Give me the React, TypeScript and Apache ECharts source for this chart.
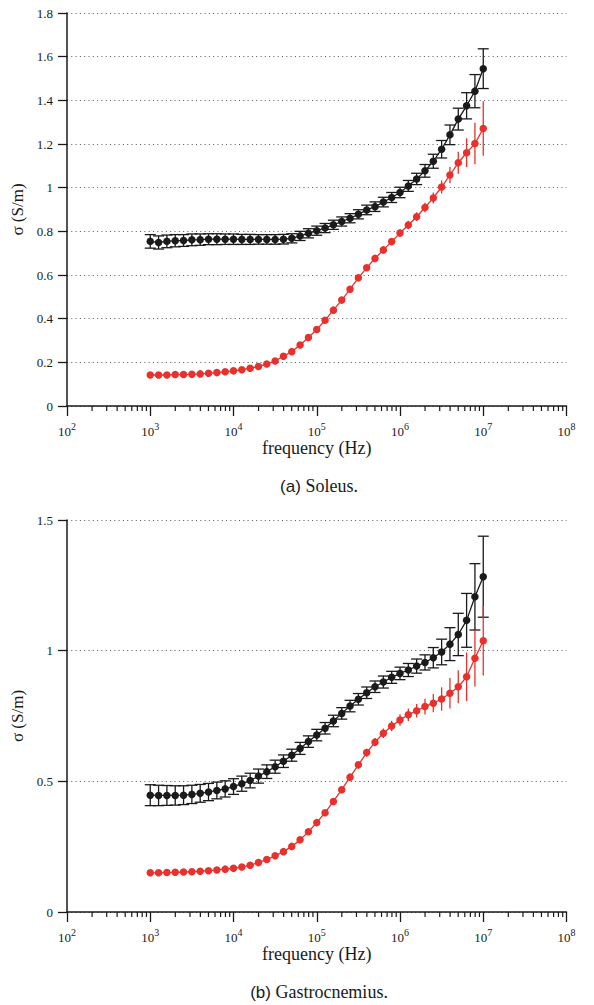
import { useEffect, useRef } from 'react';
import * as echarts from 'echarts';

// Frequencies (Hz), 10 points per decade from 1 kHz to 10 MHz
const freqHz = [
  1000, 1259, 1585, 1995, 2512, 3162, 3981, 5012, 6310, 7943,
  10000, 12589, 15849, 19953, 25119, 31623, 39811, 50119, 63096, 79433,
  100000, 125893, 158489, 199526, 251189, 316228, 398107, 501187, 630957, 794328,
  1000000, 1258925, 1584893, 1995262, 2511886, 3162278, 3981072, 5011872, 6309573, 7943282,
  10000000,
];

// (a) Soleus
const soleusBlack = [
  0.754, 0.749, 0.754, 0.757, 0.758, 0.761, 0.762, 0.764, 0.764, 0.764,
  0.764, 0.763, 0.763, 0.763, 0.763, 0.763, 0.764, 0.768, 0.779, 0.791,
  0.803, 0.815, 0.830, 0.845, 0.860, 0.878, 0.898, 0.913, 0.934, 0.955,
  0.978, 1.008, 1.040, 1.077, 1.121, 1.176, 1.242, 1.314, 1.375, 1.442,
  1.545,
];
const soleusBlackErr = [
  0.031, 0.030, 0.029, 0.028, 0.027, 0.027, 0.026, 0.025, 0.025, 0.024,
  0.024, 0.023, 0.023, 0.022, 0.022, 0.022, 0.022, 0.021, 0.021, 0.021,
  0.021, 0.021, 0.021, 0.021, 0.021, 0.021, 0.022, 0.022, 0.022, 0.023,
  0.024, 0.025, 0.026, 0.029, 0.032, 0.040, 0.045, 0.050, 0.060, 0.076,
  0.091,
];
const soleusRed = [
  0.142, 0.142, 0.142, 0.144, 0.144, 0.145, 0.147, 0.150, 0.153, 0.157,
  0.161, 0.166, 0.173, 0.181, 0.192, 0.206, 0.228, 0.249, 0.279, 0.314,
  0.350, 0.393, 0.439, 0.485, 0.535, 0.587, 0.633, 0.676, 0.715, 0.753,
  0.792, 0.829, 0.867, 0.909, 0.953, 1.003, 1.058, 1.114, 1.160, 1.202,
  1.271,
];
const soleusRedErr = [
  0.004, 0.004, 0.004, 0.004, 0.004, 0.004, 0.004, 0.004, 0.005, 0.005,
  0.005, 0.005, 0.005, 0.006, 0.006, 0.006, 0.007, 0.007, 0.008, 0.008,
  0.009, 0.009, 0.010, 0.011, 0.012, 0.013, 0.014, 0.015, 0.016, 0.017,
  0.018, 0.019, 0.020, 0.022, 0.025, 0.030, 0.038, 0.050, 0.066, 0.095,
  0.125,
];

// (b) Gastrocnemius
const gastroBlack = [
  0.447, 0.446, 0.446, 0.446, 0.447, 0.450, 0.454, 0.459, 0.465, 0.471,
  0.480, 0.491, 0.503, 0.520, 0.537, 0.556, 0.577, 0.600, 0.626, 0.652,
  0.677, 0.703, 0.731, 0.760, 0.788, 0.814, 0.839, 0.862, 0.880, 0.898,
  0.913, 0.926, 0.941, 0.955, 0.973, 0.995, 1.025, 1.062, 1.116, 1.206,
  1.283,
];
const gastroBlackErr = [
  0.040, 0.039, 0.038, 0.037, 0.036, 0.035, 0.034, 0.033, 0.032, 0.031,
  0.030, 0.029, 0.028, 0.027, 0.026, 0.025, 0.024, 0.023, 0.023, 0.022,
  0.022, 0.022, 0.022, 0.022, 0.022, 0.022, 0.022, 0.022, 0.023, 0.023,
  0.024, 0.025, 0.027, 0.029, 0.039, 0.049, 0.063, 0.081, 0.103, 0.127,
  0.155,
];
const gastroRed = [
  0.150, 0.150, 0.151, 0.152, 0.153, 0.154, 0.156, 0.158, 0.161, 0.164,
  0.167, 0.172, 0.179, 0.189, 0.201, 0.215, 0.231, 0.251, 0.276, 0.307,
  0.342, 0.380, 0.423, 0.468, 0.516, 0.563, 0.610, 0.650, 0.684, 0.712,
  0.735, 0.755, 0.770, 0.786, 0.799, 0.815, 0.837, 0.862, 0.900, 0.971,
  1.038,
];
const gastroRedErr = [
  0.005, 0.005, 0.005, 0.005, 0.005, 0.005, 0.005, 0.005, 0.005, 0.005,
  0.006, 0.006, 0.006, 0.006, 0.007, 0.007, 0.007, 0.008, 0.008, 0.009,
  0.010, 0.010, 0.011, 0.012, 0.013, 0.014, 0.015, 0.016, 0.018, 0.020,
  0.022, 0.024, 0.026, 0.030, 0.035, 0.045, 0.058, 0.063, 0.093, 0.108,
  0.133,
];

// Axis settings
const xMin = 100;
const xMax = 100000000;
const decadeStarts = [1e2, 1e3, 1e4, 1e5, 1e6, 1e7];
const minorMantissas = [2, 3, 4, 5, 6, 7, 8, 9];
const captions = [
  { tag: '(a)', name: 'Soleus.' },
  { tag: '(b)', name: 'Gastrocnemius.' },
];
const yRanges = [
  { max: 1.8, interval: 0.2 },
  { max: 1.5, interval: 0.5 },
];

const BLACK = '#1a1a1a';
const RED = '#e8312c';
const SERIF = 'Times New Roman, Liberation Serif, DejaVu Serif, serif';
const SANS = 'Arial, Liberation Sans, Helvetica, sans-serif';

const minorTicks: number[] = [];
decadeStarts.forEach((d) => minorMantissas.forEach((m) => minorTicks.push(m * d)));

function pairs(vals: number[]) {
  return vals.map((v, i) => [freqHz[i], v]);
}
function errRows(vals: number[], errs: number[]) {
  return vals.map((v, i) => [freqHz[i], v - errs[i], v + errs[i]]);
}

function errorSeries(idx: number, vals: number[], errs: number[], color: string, cap: number) {
  return {
    type: 'custom',
    xAxisIndex: idx,
    yAxisIndex: idx,
    clip: false,
    silent: true,
    encode: { x: 0, y: [1, 2] },
    data: errRows(vals, errs),
    renderItem: (_p: any, api: any) => {
      const x = api.value(0);
      const lo = api.coord([x, api.value(1)]);
      const hi = api.coord([x, api.value(2)]);
      const st = { stroke: color, lineWidth: 1.3 };
      const children: any[] = [
        { type: 'line', shape: { x1: hi[0], y1: hi[1], x2: lo[0], y2: lo[1] }, style: st },
      ];
      if (cap > 0) {
        children.push(
          { type: 'line', shape: { x1: hi[0] - cap / 2, y1: hi[1], x2: hi[0] + cap / 2, y2: hi[1] }, style: st },
          { type: 'line', shape: { x1: lo[0] - cap / 2, y1: lo[1], x2: lo[0] + cap / 2, y2: lo[1] }, style: st },
        );
      }
      return { type: 'group', children };
    },
  };
}

function lineSeries(idx: number, vals: number[], color: string) {
  return {
    type: 'line',
    xAxisIndex: idx,
    yAxisIndex: idx,
    data: pairs(vals),
    symbol: 'circle',
    symbolSize: 7.5,
    showSymbol: true,
    silent: true,
    lineStyle: { color, width: 1.3 },
    itemStyle: { color },
  };
}

function minorTickSeries(idx: number) {
  return {
    type: 'custom',
    xAxisIndex: idx,
    yAxisIndex: idx,
    clip: false,
    silent: true,
    encode: { x: 0, y: 1 },
    data: minorTicks.map((v) => [v, 0]),
    renderItem: (_p: any, api: any) => {
      const p = api.coord([api.value(0), 0]);
      return {
        type: 'line',
        shape: { x1: p[0], y1: p[1], x2: p[0], y2: p[1] + 5 },
        style: { stroke: BLACK, lineWidth: 1.2 },
      };
    },
  };
}

export default function App() {
  const ref = useRef<HTMLDivElement>(null);
  useEffect(() => {
    if (!ref.current) return;
    const chart = echarts.init(ref.current, null, { renderer: 'svg' });
    const grids = [
      { left: 67, right: 27.5, top: 13, height: 393 },
      { left: 67, right: 27.5, top: 520, height: 392 },
    ];
    const xAxes = grids.map((_, i) => ({
      type: 'log',
      logBase: 10,
      gridIndex: i,
      min: xMin,
      max: xMax,
      name: 'frequency (Hz)',
      nameLocation: 'middle',
      nameGap: 33,
      nameTextStyle: { fontFamily: SERIF, fontSize: 18, color: BLACK },
      axisLine: { lineStyle: { color: BLACK, width: 1.5 } },
      axisTick: { show: true, length: 10, inside: false, lineStyle: { color: BLACK, width: 1.3 } },
      minorTick: { show: false },
      splitLine: { show: false },
      axisLabel: {
        margin: 15,
        fontFamily: SERIF,
        formatter: (v: number) => `{b|10}{e|${Math.round(Math.log10(v))}}`,
        rich: {
          b: { fontFamily: SERIF, fontSize: 13, color: BLACK },
          e: { fontFamily: SERIF, fontSize: 10, color: BLACK, padding: [0, 0, 11, 0] },
        },
      },
    }));
    const yAxes = grids.map((_, i) => ({
      type: 'value',
      gridIndex: i,
      min: 0,
      max: yRanges[i].max,
      interval: yRanges[i].interval,
      name: 'σ (S/m)',
      nameLocation: 'middle',
      nameGap: 38,
      nameTextStyle: { fontFamily: SERIF, fontSize: 17, color: BLACK },
      axisLine: { show: true, lineStyle: { color: BLACK, width: 1.5 } },
      axisTick: { show: true, length: 9, lineStyle: { color: BLACK, width: 1.3 } },
      axisLabel: { margin: 14, fontFamily: SERIF, fontSize: 13, color: BLACK },
      splitLine: { show: true, lineStyle: { color: '#555', width: 1, type: [1, 3.3] } },
    }));
    chart.setOption({
      animation: false,
      backgroundColor: '#fff',
      textStyle: { fontFamily: SERIF },
      title: captions.map((c, i) => ({
        text: `{a|${c.tag}} {b|${c.name}}`,
        left: 314,
        textAlign: 'center',
        top: i === 0 ? 472 : 978,
        textStyle: {
          fontWeight: 'normal',
          fontFamily: SERIF,
          rich: {
            a: { fontFamily: SANS, fontSize: 17, fontWeight: 'normal', color: BLACK },
            b: { fontFamily: SERIF, fontSize: 18, fontWeight: 'normal', color: BLACK },
          },
        },
      })),
      grid: grids,
      xAxis: xAxes,
      yAxis: yAxes,
      series: [
        minorTickSeries(0),
        minorTickSeries(1),
        errorSeries(0, soleusBlack, soleusBlackErr, BLACK, 11),
        lineSeries(0, soleusBlack, BLACK),
        errorSeries(0, soleusRed, soleusRedErr, RED, 0),
        lineSeries(0, soleusRed, RED),
        errorSeries(1, gastroBlack, gastroBlackErr, BLACK, 11),
        lineSeries(1, gastroBlack, BLACK),
        errorSeries(1, gastroRed, gastroRedErr, RED, 0),
        lineSeries(1, gastroRed, RED),
      ],
    });
    return () => chart.dispose();
  }, []);
  return (
    <div
      ref={ref}
      style={{ position: 'absolute', left: 0, top: 0, width: 594, height: 1005, background: '#fff' }}
    />
  );
}
